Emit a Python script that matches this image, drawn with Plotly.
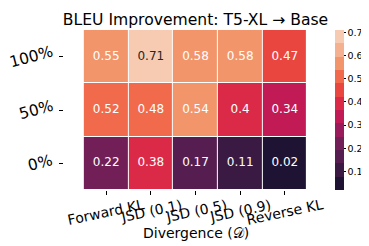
import plotly.graph_objects as go

title = "BLEU Improvement: T5-XL → Base"
divergences = ["Forward KL", "JSD (0.1)", "JSD (0.5)", "JSD (0.9)", "Reverse KL"]
levels = ["0%", "50%", "100%"]  # bottom to top
vals_0 = [0.22, 0.38, 0.17, 0.11, 0.02]
vals_50 = [0.52, 0.48, 0.54, 0.40, 0.34]
vals_100 = [0.55, 0.71, 0.58, 0.58, 0.47]
cbar_ticks = [0.1, 0.2, 0.3, 0.4, 0.5, 0.6, 0.7]

z = [vals_0, vals_50, vals_100]
zmin = min(min(r) for r in z)
zmax = max(max(r) for r in z)

rocket12 = ["#1F1333", "#3A1A42", "#561E50", "#731F57", "#9A1B5B", "#C11A55",
            "#DB2A48", "#E9463F", "#F06A4B", "#F3956A", "#F5B090", "#F6CBB2"]
n = len(rocket12)
cs = []
for i, c in enumerate(rocket12):
    cs.append([i / n, c])
    cs.append([(i + 1) / n, c])

FONT = "DejaVu Sans"
fig = go.Figure()
fig.add_trace(go.Heatmap(
    z=z, x=divergences, y=levels, zmin=zmin, zmax=zmax, colorscale=cs,
    xgap=1, ygap=1, hoverinfo="skip",
    colorbar=dict(x=1.030, xanchor="left", xpad=0, y=0.5, yanchor="middle",
                  len=1, lenmode="fraction", ypad=0, thickness=9,
                  thicknessmode="pixels", outlinewidth=0,
                  tickvals=cbar_ticks, ticktext=[str(t) for t in cbar_ticks],
                  ticks="outside", ticklen=2, tickcolor="black",
                  tickfont=dict(family=FONT, size=9.5, color="black")),
))

# cell annotations
tx, ty, tt, tc = [], [], [], []
for yi, row in zip(levels, z):
    for xi, v in zip(divergences, row):
        tx.append(xi); ty.append(yi); tt.append(f"{v:.2g}")
        frac = (v - zmin) / (zmax - zmin)
        tc.append("#262626" if frac > 0.85 else "white")
fig.add_trace(go.Scatter(x=tx, y=ty, text=tt, mode="text",
                         textfont=dict(family=FONT, size=12, color=tc),
                         hoverinfo="skip", showlegend=False))

annos = []
for d in divergences:
    annos.append(dict(x=d, xref="x", y=0, yref="paper", yshift=-4, xanchor="center",
                      yanchor="top", text=d, textangle=-12, showarrow=False,
                      font=dict(family=FONT, size=14, color="black")))
for l in levels:
    annos.append(dict(x=0, xref="paper", y=l, yref="y", xshift=-7, xanchor="right",
                      yanchor="middle", text=l, textangle=-15, showarrow=False,
                      font=dict(family=FONT, size=15.5, color="black")))
annos.append(dict(x=0.5, xref="paper", y=0, yref="paper", yshift=-33, xanchor="center",
                  yanchor="top", text="Divergence (𝒟)", showarrow=False,
                  font=dict(family=FONT, size=14, color="black")))

fig.update_layout(
    width=369, height=246,
    margin=dict(l=56, r=50, t=22, b=64, autoexpand=False),
    paper_bgcolor="white", plot_bgcolor="white",
    title=dict(text=title, x=(56 + 319) / 2 / 369, xanchor="center",
               y=1 - 11.5 / 246, yanchor="middle", yref="container",
               font=dict(family=FONT, size=15.6, color="black")),
    annotations=annos,
    showlegend=False,
)
fig.update_xaxes(showticklabels=False, ticks="outside", ticklen=4, tickcolor="black",
                 showgrid=False, zeroline=False, showline=False)
fig.update_yaxes(showticklabels=False, ticks="outside", ticklen=4, tickcolor="black",
                 showgrid=False, zeroline=False, showline=False)

fig.write_html("out.html")
